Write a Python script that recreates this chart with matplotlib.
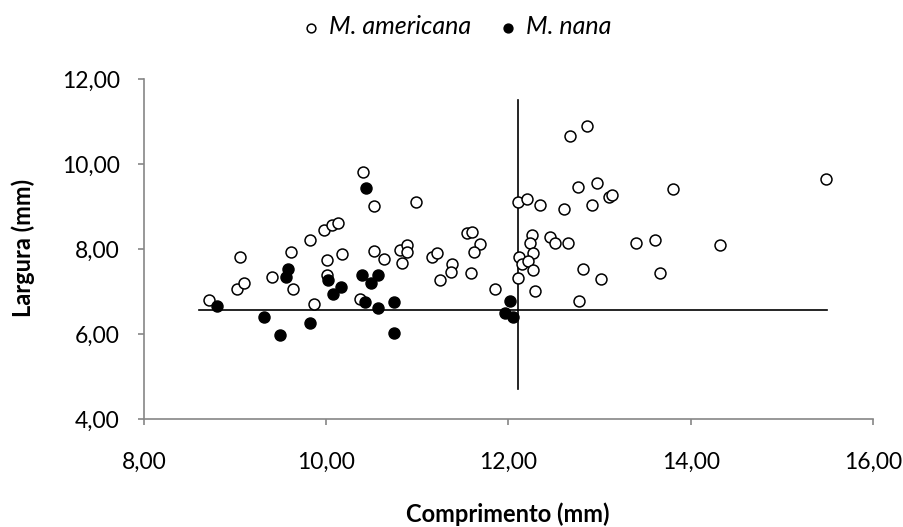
import matplotlib
matplotlib.use("Agg")
import matplotlib.pyplot as plt
from matplotlib.ticker import FuncFormatter

# M. americana (open circles)
americana_comp = [8.71, 9.05, 9.02, 9.10, 9.40, 9.61, 9.64, 9.87, 9.82, 9.98,
                  10.06, 10.13, 10.01, 10.01, 10.17, 10.40, 10.52, 10.52, 10.63, 10.37,
                  10.81, 10.83, 10.89, 10.89, 10.99, 11.16, 11.21, 11.25, 11.38, 11.37,
                  11.54, 11.60, 11.69, 11.62, 11.59, 11.85, 12.10, 12.20, 12.35, 12.61,
                  12.68, 12.86, 12.76, 12.97, 12.92, 13.10, 13.14, 12.26, 12.24, 12.46,
                  12.51, 12.65, 12.27, 12.12, 12.15, 12.21, 12.27, 12.10, 12.29, 12.82,
                  13.02, 12.77, 13.40, 13.61, 13.80, 13.66, 14.32, 15.48]
americana_larg = [6.80, 7.80, 7.07, 7.21, 7.35, 7.93, 7.07, 6.70, 8.20, 8.44,
                  8.56, 8.62, 7.75, 7.39, 7.88, 9.80, 9.00, 7.95, 7.76, 6.82,
                  7.97, 7.68, 8.09, 7.92, 9.11, 7.80, 7.90, 7.27, 7.65, 7.45,
                  8.38, 8.39, 8.12, 7.94, 7.44, 7.05, 9.10, 9.18, 9.03, 8.93,
                  10.66, 10.89, 9.45, 9.56, 9.04, 9.22, 9.28, 8.34, 8.14, 8.29,
                  8.14, 8.14, 7.91, 7.82, 7.65, 7.72, 7.50, 7.31, 7.00, 7.54,
                  7.29, 6.78, 8.14, 8.21, 9.40, 7.43, 8.10, 9.64]

# M. nana (filled circles)
nana_comp = [8.80, 9.32, 9.49, 9.58, 9.56, 9.82, 10.02, 10.16, 10.07, 10.44,
             10.39, 10.49, 10.57, 10.43, 10.57, 10.74, 10.74, 12.02, 11.96, 12.05]
nana_larg = [6.67, 6.40, 5.98, 7.53, 7.33, 6.27, 7.27, 7.11, 6.93, 9.43,
             7.39, 7.19, 7.39, 6.76, 6.60, 6.76, 6.03, 6.78, 6.49, 6.39]

# reference lines
hline_x = [8.6, 15.5]
hline_y = [6.57, 6.57]
vline_x = [12.1, 12.1]
vline_y = [4.7, 11.5]

plt.rcParams['font.family'] = ['Lato', 'DejaVu Sans']

fig = plt.figure(figsize=(9.04, 5.27), dpi=100)
ax = fig.add_axes([0.1593, 0.2049, 0.8064, 0.6453])

ax.plot(hline_x, hline_y, color='black', lw=1.2, zorder=1)
ax.plot(vline_x, vline_y, color='black', lw=1.2, zorder=1)

ax.scatter(americana_comp, americana_larg, s=62, facecolors='white',
           edgecolors='black', linewidths=1.1, zorder=3, label='M. americana')
ax.scatter(nana_comp, nana_larg, s=62, facecolors='black',
           edgecolors='black', linewidths=1.1, zorder=4, label='M. nana')

ax.set_xlim(8, 16)
ax.set_ylim(4, 12)
ax.set_xticks([8, 10, 12, 14, 16])
ax.set_yticks([4, 6, 8, 10, 12])
fmt = FuncFormatter(lambda v, p: f"{v:.2f}".replace('.', ','))
ax.xaxis.set_major_formatter(fmt)
ax.yaxis.set_major_formatter(fmt)

for s in ['top', 'right']:
    ax.spines[s].set_visible(False)
for s in ['left', 'bottom']:
    ax.spines[s].set_color('#868686')
    ax.spines[s].set_linewidth(1.2)
ax.tick_params(direction='out', length=4.5, width=1.2, color='#868686',
               labelsize=16.5)
ax.tick_params(axis='y', pad=13)
ax.tick_params(axis='x', pad=19)

# axis titles placed in figure coordinates
fig.text(508 / 904, 1 - 514 / 527, 'Comprimento (mm)', fontsize=17,
         fontweight='bold', ha='center', va='center')
fig.text(23 / 904, 1 - 248 / 527, 'Largura (mm)', fontsize=17,
         fontweight='bold', ha='center', va='center', rotation=90)

leg = fig.legend(loc='center', bbox_to_anchor=(0.506, 0.949), ncol=2, frameon=False,
                 handlelength=0.6, handletextpad=0.4, columnspacing=1.2,
                 markerscale=0.8, prop={'style': 'italic', 'size': 18})

fig.savefig('out.png', dpi=100)
